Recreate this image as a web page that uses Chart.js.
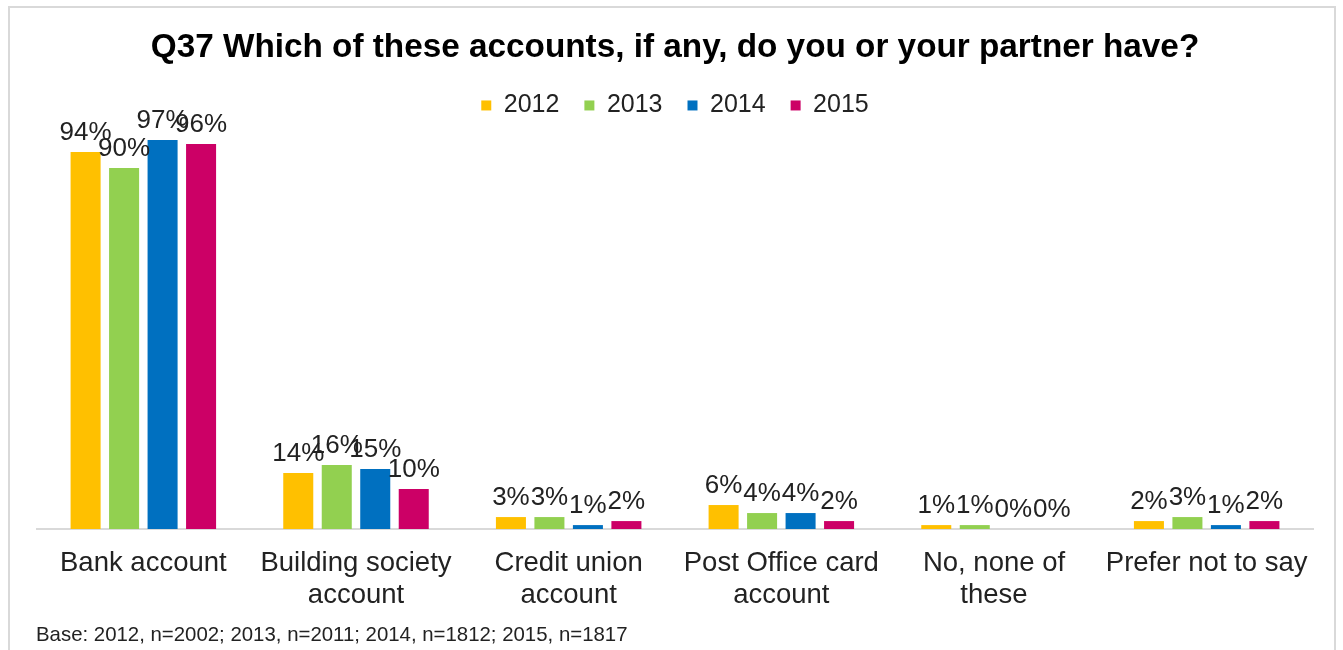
<!DOCTYPE html>
<html>
<head>
<meta charset="utf-8">
<script src="https://cdn.jsdelivr.net/npm/chart.js@4.4.1/dist/chart.umd.min.js"></script>
<style>
  html, body { margin: 0; padding: 0; background: #fff; }
  #wrap { position: relative; width: 1343px; height: 650px; overflow: hidden; }
  #frame {
    position: absolute; left: 8px; top: 6px; width: 1328px; height: 700px;
    border: 2px solid #d9d9d9; box-sizing: border-box;
  }
  #chart { position: absolute; left: 0; top: 0; }
  #base {
    position: absolute; left: 36px; top: 623px;
    font-family: "Liberation Sans", Arial, sans-serif;
    font-size: 20.4px; color: #222;
  }
</style>
</head>
<body>
<div id="wrap">
  <div id="frame"></div>
  <canvas id="chart" width="1343" height="650"></canvas>
  <div id="base">Base: 2012, n=2002; 2013, n=2011; 2014, n=1812; 2015, n=1817</div>
</div>
<script>
const accounts = [
  ["Bank account"],
  ["Building society", "account"],
  ["Credit union", "account"],
  ["Post Office card", "account"],
  ["No, none of", "these"],
  ["Prefer not to say"],
];
const years = ["2012", "2013", "2014", "2015"];
const y2012 = [94, 14, 3, 6, 1, 2];
const y2013 = [90, 16, 3, 4, 1, 3];
const y2014 = [97, 15, 1, 4, 0, 1];
const y2015 = [96, 10, 2, 2, 0, 2];
const colours = ["#FFC000", "#92D050", "#0070C0", "#CC0066"];

const FONT = "'Liberation Sans', Arial, sans-serif";

// percentage labels above each bar
const barLabels = {
  id: "barLabels",
  afterDatasetsDraw(chart) {
    const ctx = chart.ctx;
    ctx.save();
    ctx.font = "26px " + FONT;
    ctx.fillStyle = "#222";
    ctx.textAlign = "center";
    ctx.textBaseline = "alphabetic";
    chart.data.datasets.forEach((ds, i) => {
      chart.getDatasetMeta(i).data.forEach((bar, j) => {
        ctx.fillText(ds.data[j] + "%", bar.x, bar.y - 12);
      });
    });
    ctx.restore();
  },
};

new Chart(document.getElementById("chart"), {
  type: "bar",
  data: {
    labels: accounts,
    datasets: [y2012, y2013, y2014, y2015].map((d, i) => ({
      label: years[i],
      data: d,
      backgroundColor: colours[i],
      barPercentage: 0.78,
      categoryPercentage: 0.724,
    })),
  },
  options: {
    responsive: false,
    animation: false,
    layout: { padding: { left: 37, right: 30, top: 0, bottom: 20 } },
    scales: {
      x: {
        grid: { display: false, drawTicks: false },
        border: { display: true, color: "#d9d9d9", width: 2 },
        ticks: {
          color: "#222",
          padding: 18,
          maxRotation: 0,
          autoSkip: false,
          font: { family: FONT, size: 27.5, lineHeight: 1.18 },
        },
      },
      y: { display: false, min: 0, max: 100 },
    },
    plugins: {
      title: {
        display: true,
        text: "Q37 Which of these accounts, if any, do you or your partner have?",
        color: "#000",
        font: { family: FONT, size: 33.3, weight: "bold" },
        padding: { top: 28, bottom: 0 },
      },
      legend: {
        position: "top",
        labels: {
          boxWidth: 10,
          boxHeight: 10,
          padding: 25,
          color: "#222",
          font: { family: FONT, size: 25 },
        },
      },
      tooltip: { enabled: false },
    },
  },
  plugins: [barLabels],
});
</script>
</body>
</html>
